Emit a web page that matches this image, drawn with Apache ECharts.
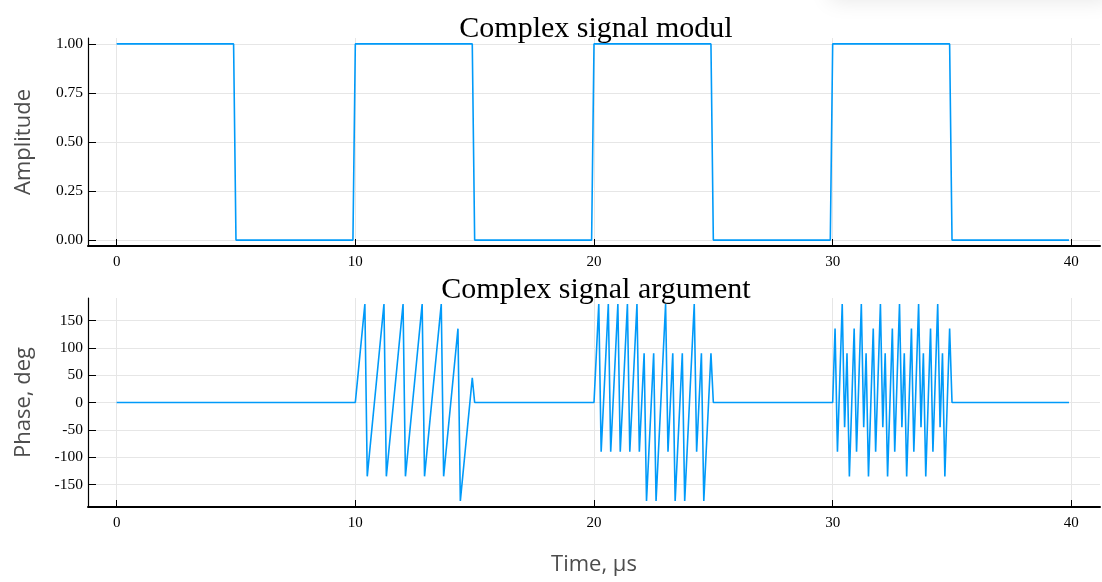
<!DOCTYPE html>
<html>
<head>
<meta charset="utf-8">
<script src="https://cdn.jsdelivr.net/npm/echarts@6/dist/echarts.min.js"></script>
<style>html,body{margin:0;padding:0;background:#fff;}#c{width:1102px;height:582px;}</style>
</head>
<body>
<div id="c"></div>
<script>
// ---- data ----
const xTicks = [0, 10, 20, 30, 40];
const ampTicks = [0, 0.25, 0.5, 0.75, 1];
const phaseTicks = [-150, -100, -50, 0, 50, 100, 150];

const ampT = [0, 4.9, 5.0, 9.9, 10.0, 14.9, 15.0, 19.9, 20.0, 24.9, 25.0, 29.9, 30.0, 34.9, 35.0, 39.9];
const ampV = [1, 1, 0, 0, 1, 1, 0, 0, 1, 1, 0, 0, 1, 1, 0, 0];

const phT1 = [0, 10.0,10.1,10.2,10.3,10.4,10.5,10.6,10.7,10.8,10.9,11.0,11.1,11.2,11.3,11.4,11.5,11.6,11.7,11.8,11.9,
  12.0,12.1,12.2,12.3,12.4,12.5,12.6,12.7,12.8,12.9,13.0,13.1,13.2,13.3,13.4,13.5,13.6,13.7,13.8,13.9,
  14.0,14.1,14.2,14.3,14.4,14.5,14.6,14.7,14.8,14.9,15.0];
const phV1 = [0, 0,45,90,135,180,-135,-90,-45, 0,45,90,135,180,-135,-90,-45, 0,45,90,135,
  180,-135,-90,-45, 0,45,90,135,180,-135,-90,-45, 0,45,90,135,180,-135,-90,-45,
  0,45,90,135,-180,-135,-90,-45, 0,45, 0];

const phT2 = [20.0,20.1,20.2,20.3,20.4,20.5,20.6,20.7,20.8,20.9,21.0,21.1,21.2,21.3,21.4,21.5,21.6,21.7,21.8,21.9,
  22.0,22.1,22.2,22.3,22.4,22.5,22.6,22.7,22.8,22.9,23.0,23.1,23.2,23.3,23.4,23.5,23.6,23.7,23.8,23.9,
  24.0,24.1,24.2,24.3,24.4,24.5,24.6,24.7,24.8,24.9,25.0];
const phV2 = [0,90,180,-90,0,90,180,-90,0,90,180,-90,0,90,180,-90,0,90,180,-90,
  0,90,-180,-90,0,90,-180,-90,0,90,180,-90,0,90,-180,-90,0,90,-180,-90,
  0,90,180,-90,0,90,-180,-90,0,90,0];

const phT3 = [30.0,30.1,30.2,30.3,30.4,30.5,30.6,30.7,30.8,30.9,31.0,31.1,31.2,31.3,31.4,31.5,31.6,31.7,31.8,31.9,
  32.0,32.1,32.2,32.3,32.4,32.5,32.6,32.7,32.8,32.9,33.0,33.1,33.2,33.3,33.4,33.5,33.6,33.7,33.8,33.9,
  34.0,34.1,34.2,34.3,34.4,34.5,34.6,34.7,34.8,34.9,35.0,39.9];
const phV3 = [0,135,-90,45,180,-45,90,-135, 0,135,-90,45,180,-45,90,-135, 0,135,-90,45,
  180,-45,90,-135, 0,135,-90,45,180,-45,90,-135, 0,135,-90,45,180,-45,90,-135,
  0,135,-90,45,180,-45,90,-135, 0,135,0,0];

// ---- build ----
const zip = (a, b) => a.map((t, i) => [t, b[i]]);
const ampData = zip(ampT, ampV);
const phData = zip(phT1, phV1).concat(zip(phT2, phV2), zip(phT3, phV3));

const serif = 'Liberation Serif';
const sans = 'Open Sans';
const lineColor = '#009af9';
const gridColor = '#e6e6e6';

function xAxis(gi, withName) {
  return {
    type: 'value', gridIndex: gi, min: -1.2, max: 41.2,
    axisLine: { show: true, onZero: false, lineStyle: { color: '#000', width: 2 } },
    axisTick: { show: true, inside: true, length: 7, customValues: xTicks, lineStyle: { color: '#000', width: 1 } },
    axisLabel: { customValues: xTicks, fontFamily: serif, fontSize: 15, color: '#000', margin: 9 },
    splitLine: { show: true, lineStyle: { color: gridColor, width: 1 } },
    name: withName ? 'Time, μs' : '',
    nameLocation: 'middle', nameGap: 47,
    nameTextStyle: { fontFamily: sans, fontSize: 22, color: '#4d4d4d' }
  };
}
function yAxis(gi, min, max, ticks, fmt, name) {
  return {
    type: 'value', gridIndex: gi, min: min, max: max,
    axisLine: { show: true, onZero: false, lineStyle: { color: '#000', width: 1.2 } },
    axisTick: { show: true, inside: true, length: 8, customValues: ticks, lineStyle: { color: '#000', width: 1 } },
    axisLabel: { customValues: ticks, formatter: fmt, fontFamily: serif, fontSize: 15.5, color: '#000', margin: 5 },
    splitLine: { show: true, lineStyle: { color: gridColor, width: 1 } },
    name: name, nameLocation: 'middle', nameGap: 53, nameRotate: 90,
    nameTextStyle: { fontFamily: sans, fontSize: 22, color: '#4d4d4d' }
  };
}

const chart = echarts.init(document.getElementById('c'), null, { renderer: 'canvas' });
chart.setOption({
  animation: false,
  backgroundColor: '#fff',
  graphic: [{
    type: 'rect', silent: true, z: -1,
    shape: { x: 830, y: -30, width: 280, height: 28 },
    style: { fill: '#fff', shadowBlur: 22, shadowColor: 'rgba(0,0,0,0.10)', shadowOffsetY: 2 }
  }],
  title: [
    { text: 'Complex signal modul', left: 591, top: 9, textAlign: 'center',
      textStyle: { fontFamily: serif, fontSize: 30, fontWeight: 'normal', color: '#000' } },
    { text: 'Complex signal argument', left: 591, top: 270, textAlign: 'center',
      textStyle: { fontFamily: serif, fontSize: 30, fontWeight: 'normal', color: '#000' } }
  ],
  grid: [
    { left: 88, top: 38, width: 1012, height: 208 },
    { left: 88, top: 298, width: 1012, height: 209 }
  ],
  xAxis: [xAxis(0, false), xAxis(1, true)],
  yAxis: [
    yAxis(0, -0.03, 1.03, ampTicks, v => v.toFixed(2), 'Amplitude'),
    yAxis(1, -191, 191, phaseTicks, v => String(v), 'Phase, deg')
  ],
  series: [
    { type: 'line', xAxisIndex: 0, yAxisIndex: 0, data: ampData, showSymbol: false,
      lineStyle: { color: lineColor, width: 1.6 }, clip: true },
    { type: 'line', xAxisIndex: 1, yAxisIndex: 1, data: phData, showSymbol: false,
      lineStyle: { color: lineColor, width: 1.6 }, clip: true }
  ]
});
</script>
</body>
</html>
